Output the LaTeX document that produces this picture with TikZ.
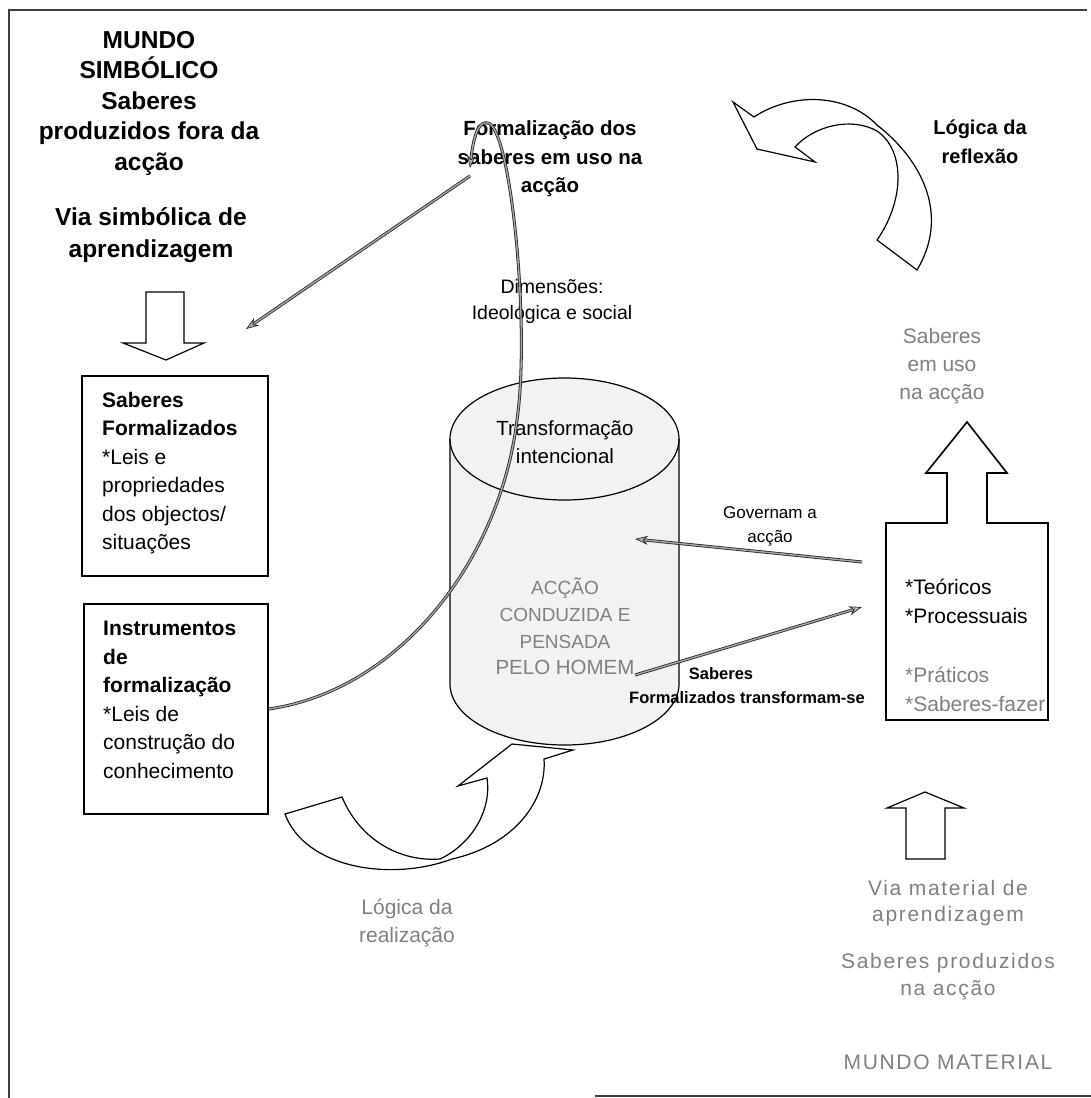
\documentclass[tikz,border=0pt]{standalone}
\usepackage{fontspec}
\setmainfont{Liberation Sans}
\newfontfamily\widesans[LetterSpace=8]{Liberation Sans}
\usetikzlibrary{arrows.meta}
\definecolor{txtgray}{gray}{0.5}
\begin{document}
\begin{tikzpicture}[x=1pt,y=-1pt,
  frameline/.style={draw=black!75,line width=2.4pt},
  boxline/.style={draw=black,line width=1.6pt},
  blockarrow/.style={draw=black,line width=1.2pt,fill=white,line join=miter},
  conn/.style={draw=black!85,line width=0.8pt,double=black!35,double distance=1.4pt,
    -{Stealth[length=13pt,width=9pt,fill=black!30,line width=0.7pt]}},
  lbl/.style={inner sep=0pt,align=center},
  ttl/.style={lbl,font=\fontsize{24.5}{30.5}\selectfont\bfseries},
  bxt/.style={inner sep=0pt,align=left,font=\fontsize{21}{28.5}\selectfont},
  grey/.style={text=txtgray},
]
\useasboundingbox (0,0) rectangle (1091,1098);
% frame
\draw[frameline] (8,10) -- (1087,10);
\draw[frameline] (9,10) -- (9,1098);
\draw[frameline] (595,1096) -- (1091,1096);

% top-left titles
\node[ttl] (tl) at (149,103) {MUNDO\\SIMBÓLICO\\Saberes\\produzidos fora da\\acção};
\node[ttl,font=\fontsize{24.5}{32}\selectfont\bfseries] (via) at (151,235) {Via simbólica de\\aprendizagem};

% down arrow left
\draw[blockarrow] (146,292) -- (184,292) -- (184,343) -- (204,343) -- (166,360) -- (123,343) -- (146,343) -- cycle;

% boxes left
\node[boxline,minimum width=186pt,minimum height=200pt,inner sep=0pt] (box1) at (175,476) {};
\node[bxt,anchor=north west] (box1t) at (102,392) {\textbf{Saberes}\\\textbf{Formalizados}\\*Leis e\\propriedades\\dos objectos/\\situações};
\node[boxline,minimum width=184pt,minimum height=210pt,inner sep=0pt] (box2) at (176,709) {};
\node[bxt,anchor=north west] (box2t) at (103,621) {\textbf{Instrumentos}\\\textbf{de}\\\textbf{formalização}\\*Leis de\\construção do\\conhecimento};

% cylinder
\fill[black!5] (450,439) -- (450,684) arc[start angle=180,end angle=0,x radius=114.5,y radius=61] -- (679,439) arc[start angle=0,end angle=-180,x radius=114.5,y radius=61] -- cycle;
\draw[line width=1.2pt] (450,439) -- (450,684) arc[start angle=180,end angle=0,x radius=114.5,y radius=61] -- (679,439);
\draw[line width=1.2pt] (564.5,439) ellipse[x radius=114.5,y radius=61];
\node[inner sep=0pt,minimum width=229pt,minimum height=367pt] (cyl) at (564.5,561) {};
\node[lbl,font=\fontsize{20.5}{28}\selectfont] (transf) at (565,442) {Transformação\\intencional};
\node[lbl,grey,font=\fontsize{19}{27}\selectfont] (accao) at (565,613) {ACÇÃO\\CONDUZIDA E\\PENSADA};
\node[lbl,grey,font=\fontsize{20.5}{24}\selectfont] (pelo) at (565,667) {PELO HOMEM};

% top middle texts
\node[lbl,font=\fontsize{20.5}{28.5}\selectfont\bfseries] (formal) at (550,159) {Formalização dos\\saberes em uso na\\acção};
\node[lbl,font=\fontsize{19.5}{26}\selectfont] (dim) at (552,301) {Dimensões:\\Ideológica e social};

% top right
\node[lbl,font=\fontsize{20}{29}\selectfont\bfseries] (logref) at (980,142) {Lógica da\\reflexão};
\draw[blockarrow] (733,102) -- (754,117) .. controls (790,93) and (845,92) .. (877,125) .. controls (922,160) and (950,215) .. (917,270) -- (877,240) .. controls (905,200) and (905,150) .. (877,131) .. controls (852,117) and (815,125) .. (795,147) -- (815,162) -- (757,149) -- cycle;
\node[lbl,grey,font=\fontsize{21}{28}\selectfont] (emuso) at (942,366) {Saberes\\em uso\\na acção};

% right box with up arrow
\draw[boxline,line join=miter] (886,720) -- (886,523) -- (947,523) -- (947,473) -- (926,473) -- (967,422) -- (1007,473) -- (987,473) -- (987,523) -- (1048,523) -- (1048,720) -- cycle;
\node[inner sep=0pt,minimum width=162pt,minimum height=197pt] (rbox) at (967,621.5) {};
\node[bxt,anchor=north west] (rboxt) at (905,579) {*Teóricos\\*Processuais};
\node[bxt,grey,anchor=north west] (rboxg) at (905,667) {*Práticos\\*Saberes-fazer};

% middle connectors and labels
\node[lbl,font=\fontsize{17}{24}\selectfont] (gov) at (770,526) {Governam a\\acção};
\coordinate (gstart) at (862,562);
\coordinate (gend) at (635,539);
\draw[conn] (gstart) -- (gend);
\coordinate (sstart) at (635,675);
\coordinate (send) at (862,607);
\draw[conn] (sstart) -- (send);
\node[lbl,font=\fontsize{16.5}{22}\selectfont\bfseries] (sf1) at (721,674) {Saberes};
\node[lbl,font=\fontsize{16.5}{22}\selectfont\bfseries] (sf2) at (747,698) {Formalizados transformam-se};

% big curve from Instrumentos to Formalizacao and arrow to left
\coordinate (fend) at (470,168);
\coordinate (fstart) at (470,176);
\coordinate (lend) at (246,329);
\draw[conn] (box2.east) .. controls (400,690) and (500,560) .. (517,420) .. controls (530,330) and (512,140) .. (490,124) .. controls (478,117) and (473,140) .. (fend);
\draw[conn] (fstart) -- (lend);

% bottom curved arrow
\draw[blockarrow] (285,814) -- (342,797) .. controls (360,840) and (400,862) .. (440,859) .. controls (470,845) and (492,812) .. (487,778) -- (458,786) -- (512,744) -- (573,750) -- (544,759) .. controls (547,800) and (515,845) .. (452,859) .. controls (390,882) and (305,868) .. (285,814) -- cycle;
\node[lbl,grey,font=\fontsize{21}{28}\selectfont] (logreal) at (407,923) {Lógica da\\realização};

% bottom right
\draw[blockarrow] (906,859) -- (906,808) -- (887,808) -- (925,792) -- (964,808) -- (945,808) -- (945,859) -- cycle;
\node[lbl,grey,font=\fontsize{21}{26}\selectfont\widesans] (viamat) at (948,903) {Via material de\\aprendizagem};
\node[lbl,grey,font=\fontsize{21}{27}\selectfont\widesans] (prod) at (948,977) {Saberes produzidos\\na acção};
\node[lbl,grey,font=\fontsize{21}{26}\selectfont\widesans] (mm) at (948,1062) {MUNDO MATERIAL};
\end{tikzpicture}
\end{document}
